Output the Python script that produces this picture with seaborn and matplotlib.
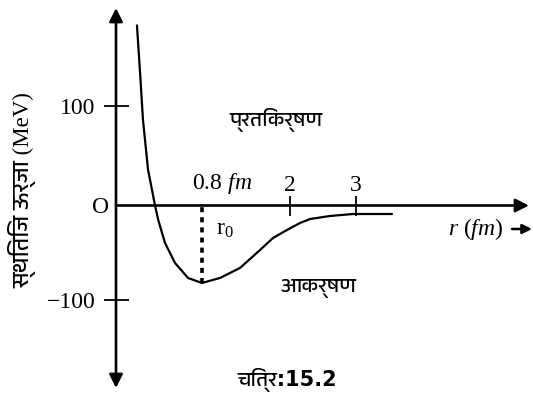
import numpy as np
import pandas as pd
import matplotlib
matplotlib.use("Agg")
import matplotlib.pyplot as plt
from matplotlib import font_manager
from matplotlib.ft2font import FT2Font
import seaborn as sns

# Nucleon-nucleon potential energy U(r) against separation r
r_fm = [0.195, 0.223, 0.251, 0.298, 0.335, 0.363, 0.393, 0.456, 0.549,
        0.670, 0.80, 1.045, 1.318, 1.591, 1.768, 1.959, 2.152, 2.303,
        2.606, 2.955, 3.545]
u_mev = [181, 135, 86, 36, 15.6, 0, -15.3, -39.7, -60.8, -76.7, -82,
         -76.7, -66.1, -47.1, -34.4, -25.9, -18.5, -14.3, -11.1, -9, -9]
r0 = 0.8                      # separation at the potential minimum
x_ticks = [2, 3]
x_tick_labels = ["2", "3"]
y_ticks = [100, -100]
y_tick_labels = ["100", "\u2212100"]

ylabel_text = "स्थितिज ऊर्जा (MeV)"
repulsion_text = "प्रतिकर्षण"
attraction_text = "आकर्षण"
caption_text = "चित्र:15.2"

# The sketch is schematic, so each axis uses a piecewise-linear layout
R_KNOTS = [-2.0, 0.0, 0.8, 2.0, 3.0, 7.0]
X_POS = [-99.0, 116.0, 202.0, 290.0, 356.0, 620.0]
U_KNOTS = [-400.0, -100.0, 0.0, 100.0, 400.0]
Y_POS = [-190.5, 93.0, 187.5, 287.0, 585.5]
W, H = 533, 393


def fwd_x(v):
    return np.interp(v, R_KNOTS, X_POS)


def inv_x(p):
    return np.interp(p, X_POS, R_KNOTS)


def fwd_y(v):
    return np.interp(v, U_KNOTS, Y_POS)


def inv_y(p):
    return np.interp(p, Y_POS, U_KNOTS)


def devanagari_family():
    """Best installed font with Devanagari glyphs, if there is one."""
    found = []
    for entry in font_manager.fontManager.ttflist:
        try:
            if 0x0915 in FT2Font(entry.fname).get_charmap():
                found.append(entry.name)
        except Exception:
            continue
    if not found:
        return None
    found.sort(key=lambda n: ("Devanagari" not in n, "Mono" in n,
                              "Sans" in n, n))
    return found[0]


sns.set_theme(style="white")
plt.rcParams["font.family"] = ["Liberation Serif", "DejaVu Sans"]
plt.rcParams["mathtext.fontset"] = "custom"
plt.rcParams["mathtext.rm"] = "Liberation Serif"
plt.rcParams["mathtext.it"] = "Liberation Serif:italic"
plt.rcParams["mathtext.bf"] = "Liberation Serif:bold"

deva = devanagari_family()
extra = [deva] if deva else []
serif_hindi = ["Liberation Serif"] + extra + ["DejaVu Sans"]
sans_hindi = ["DejaVu Sans"] + extra

fig = plt.figure(figsize=(W / 100, H / 100), dpi=100)
ax = fig.add_axes([0, 0, 1, 1])
ax.set_xscale("function", functions=(fwd_x, inv_x))
ax.set_yscale("function", functions=(fwd_y, inv_y))
ax.set_xlim(inv_x(0), inv_x(W))
ax.set_ylim(inv_y(0), inv_y(H))
ax.set_facecolor("white")

df = pd.DataFrame({"r": r_fm, "U": u_mev})
sns.lineplot(data=df, x="r", y="U", ax=ax, color="black", lw=1.6,
             sort=True, estimator=None)
ax.set_xlabel("")
ax.set_ylabel("")

# dotted drop line at r0 down to the well bottom
ax.vlines(r0, min(u_mev), 0, colors="black", linestyles=(0, (1.4, 1.4)),
          lw=2.6)

# axes with arrowheads
for s in ax.spines.values():
    s.set_visible(False)
ax.spines["left"].set_position(("data", 0))
ax.spines["bottom"].set_position(("data", 0))
arrow = dict(color="black", lw=1.9, mutation_scale=20, shrinkA=0, shrinkB=0)
ax.annotate("", xy=(0, inv_y(H - 8)), xytext=(0, inv_y(H - 388)),
            arrowprops=dict(arrowstyle="<|-|>", **arrow))
ax.annotate("", xy=(inv_x(529), 0), xytext=(0, 0),
            arrowprops=dict(arrowstyle="-|>", **arrow))

ax.set_xticks(x_ticks, x_tick_labels)
ax.set_yticks(y_ticks, y_tick_labels)
ax.tick_params(axis="x", bottom=True, direction="inout", length=14.4,
               width=1.3, pad=-28.8, labelsize=17, colors="black")
ax.tick_params(axis="y", left=True, direction="inout", length=18,
               width=1.3, pad=6, labelsize=17, colors="black")
ax.minorticks_off()


def put(px, py, s, **kw):
    ax.text(px / W, 1 - py / H, s, transform=ax.transAxes,
            ha="center", va="center", color="black", **kw)


put(101, 208, "O", fontsize=17)
put(222, 183, "0.8 $fm$", fontsize=17)
put(225, 230, "r$_0$", fontsize=17)
put(476, 229, "$r$ ($fm$)", fontsize=17)
ax.annotate("", xy=(532 / W, 1 - 229 / H), xytext=(512 / W, 1 - 229 / H),
            xycoords="axes fraction",
            arrowprops=dict(arrowstyle="-|>", color="black", lw=1.8,
                            mutation_scale=14, shrinkA=0, shrinkB=0))

put(276, 120, repulsion_text, fontsize=15, family=serif_hindi)
put(318, 289, attraction_text, fontsize=15, family=serif_hindi)
put(287, 380, caption_text, fontsize=15, fontweight="bold",
    family=sans_hindi)
put(22, 190, ylabel_text, fontsize=16.5, rotation=90, family=serif_hindi)

fig.savefig("out.png", dpi=100, facecolor="white")
